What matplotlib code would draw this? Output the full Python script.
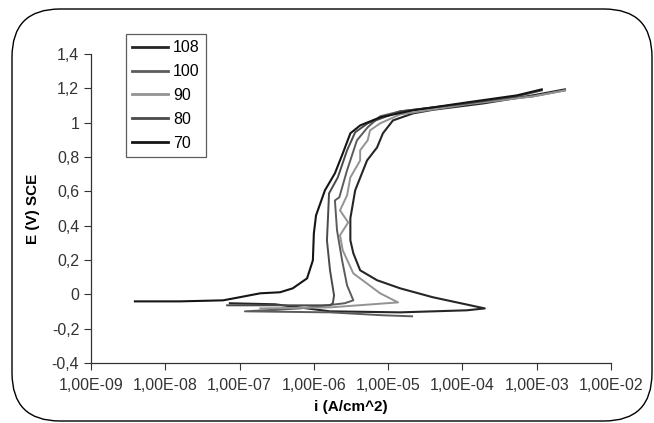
import matplotlib
matplotlib.use("Agg")
import matplotlib.pyplot as plt
from matplotlib.patches import FancyBboxPatch

plt.rcParams['font.family'] = ['Liberation Sans', 'DejaVu Sans']

# current density (A/cm^2) and potential (V SCE)
i_108 = [7.4e-8, 3.0e-7, 1.65e-6, 1.45e-5, 1.15e-4, 2.0e-4, 4.0e-5, 1.45e-5, 7.1e-6, 4.2e-6,
         3.4e-6, 3.1e-6, 3.1e-6, 3.6e-6, 5.2e-6, 7.1e-6, 8.5e-6, 1.16e-5, 2.16e-5, 4.0e-5,
         1.9e-4, 8.9e-4, 2.4e-3]
E_108 = [-0.052, -0.058, -0.099, -0.105, -0.093, -0.082, -0.017, 0.035, 0.082, 0.140,
         0.239, 0.315, 0.443, 0.606, 0.780, 0.856, 0.938, 1.013, 1.054, 1.075,
         1.112, 1.159, 1.194]

i_100 = [2.1e-5, 8.5e-6, 1.65e-6, 1.18e-7, 6.5e-7, 2.6e-6, 3.4e-6, 2.8e-6, 2.4e-6, 2.05e-6,
         1.92e-6, 2.2e-6, 2.8e-6, 3.8e-6, 5.3e-6, 7.8e-6, 1.45e-5, 1.15e-4, 8.9e-4, 2.4e-3]
E_100 = [-0.128, -0.122, -0.105, -0.099, -0.082, -0.052, -0.035, 0.052, 0.198, 0.373,
         0.547, 0.565, 0.723, 0.897, 0.973, 1.037, 1.066, 1.112, 1.153, 1.188]

i_90 = [1.9e-7, 1.65e-6, 1.36e-5, 7.8e-6, 3.4e-6, 2.45e-6, 2.25e-6, 2.9e-6, 2.25e-6, 2.8e-6,
        3.1e-6, 4.2e-6, 4.2e-6, 5.3e-6, 5.7e-6, 7.8e-6, 1.45e-5, 1.15e-4, 8.9e-4, 2.4e-3]
E_90 = [-0.082, -0.076, -0.047, 0.006, 0.122, 0.256, 0.344, 0.419, 0.489, 0.577,
        0.681, 0.780, 0.839, 0.897, 0.955, 0.996, 1.048, 1.107, 1.153, 1.188]

i_80 = [6.8e-8, 4.8e-7, 1.65e-6, 1.8e-6, 1.87e-6, 1.65e-6, 1.5e-6, 1.55e-6, 1.6e-6, 2.1e-6,
        2.8e-6, 3.6e-6, 5.3e-6, 1.45e-5, 1.15e-4, 5.4e-4, 1.17e-3]
E_80 = [-0.064, -0.064, -0.064, -0.052, -0.006, 0.140, 0.315, 0.448, 0.588, 0.681,
        0.839, 0.944, 0.996, 1.066, 1.112, 1.153, 1.188]

i_70 = [3.9e-9, 1.58e-8, 6.0e-8, 1.0e-7, 1.9e-7, 3.5e-7, 5.2e-7, 8.1e-7, 9.7e-7, 1.0e-6,
        1.07e-6, 1.41e-6, 1.92e-6, 2.45e-6, 3.1e-6, 4.2e-6, 7.8e-6, 2.16e-5, 1.15e-4, 5.4e-4,
        1.17e-3]
E_70 = [-0.041, -0.041, -0.035, -0.017, 0.006, 0.012, 0.035, 0.093, 0.198, 0.355,
        0.460, 0.606, 0.705, 0.821, 0.938, 0.984, 1.031, 1.072, 1.118, 1.159,
        1.194]

x_ticks = [1e-9, 1e-8, 1e-7, 1e-6, 1e-5, 1e-4, 1e-3, 1e-2]
x_labels = ['1,00E-09', '1,00E-08', '1,00E-07', '1,00E-06', '1,00E-05', '1,00E-04', '1,00E-03', '1,00E-02']
y_ticks = [-0.4, -0.2, 0, 0.2, 0.4, 0.6, 0.8, 1.0, 1.2, 1.4]
y_labels = ['-0,4', '-0,2', '0', '0,2', '0,4', '0,6', '0,8', '1', '1,2', '1,4']

fig = plt.figure(figsize=(6.54, 4.23), dpi=100)

# rounded frame around the whole chart, drawn in pixel units
bg = fig.add_axes([0, 0, 1, 1])
bg.set_xlim(0, 654)
bg.set_ylim(423, 0)
bg.axis('off')
bg.add_patch(FancyBboxPatch((12, 9), 640, 412, boxstyle="round,pad=0,rounding_size=48",
                            fc='white', ec='black', lw=1.0))

ax = fig.add_axes([91 / 654, 1 - 363 / 423, 520 / 654, 309 / 423])
ax.patch.set_alpha(0)

ax.plot(i_108, E_108, color='#262626', lw=1.5, label='108')
ax.plot(i_100, E_100, color='#5c5c5c', lw=1.4, label='100')
ax.plot(i_90, E_90, color='#939393', lw=1.4, label='90')
ax.plot(i_80, E_80, color='#4a4a4a', lw=1.4, label='80')
ax.plot(i_70, E_70, color='#151515', lw=1.5, label='70')

ax.set_xscale('log')
ax.set_xlim(1e-9, 1e-2)
ax.set_ylim(-0.4, 1.4)
ax.set_xticks(x_ticks)
ax.set_xticklabels(x_labels)
ax.minorticks_off()
ax.set_yticks(y_ticks)
ax.set_yticklabels(y_labels)
ax.tick_params(axis='both', labelsize=11.5, direction='out', length=5, width=0.8, colors='#333333')
ax.tick_params(axis='x', pad=6)
for s in ['top', 'right']:
    ax.spines[s].set_visible(False)
for s in ['left', 'bottom']:
    ax.spines[s].set_color('#333333')
    ax.spines[s].set_linewidth(0.9)

ax.set_xlabel('i (A/cm^2)', fontsize=11, fontweight='bold', labelpad=5)
ax.set_ylabel('E (V) SCE', fontsize=11, fontweight='bold', labelpad=8)

leg = ax.legend(loc='upper left', bbox_to_anchor=((126 - 91) / 520, (363 - 34) / 309),
                fontsize=11.5, frameon=True, fancybox=False, borderaxespad=0, borderpad=0.4,
                handlelength=2.2, handletextpad=0.35, labelspacing=0.55)
leg.get_frame().set_edgecolor('#333333')
leg.get_frame().set_linewidth(0.9)
for line in leg.get_lines():
    line.set_linewidth(2.0)

plt.savefig('out.png', dpi=100)
